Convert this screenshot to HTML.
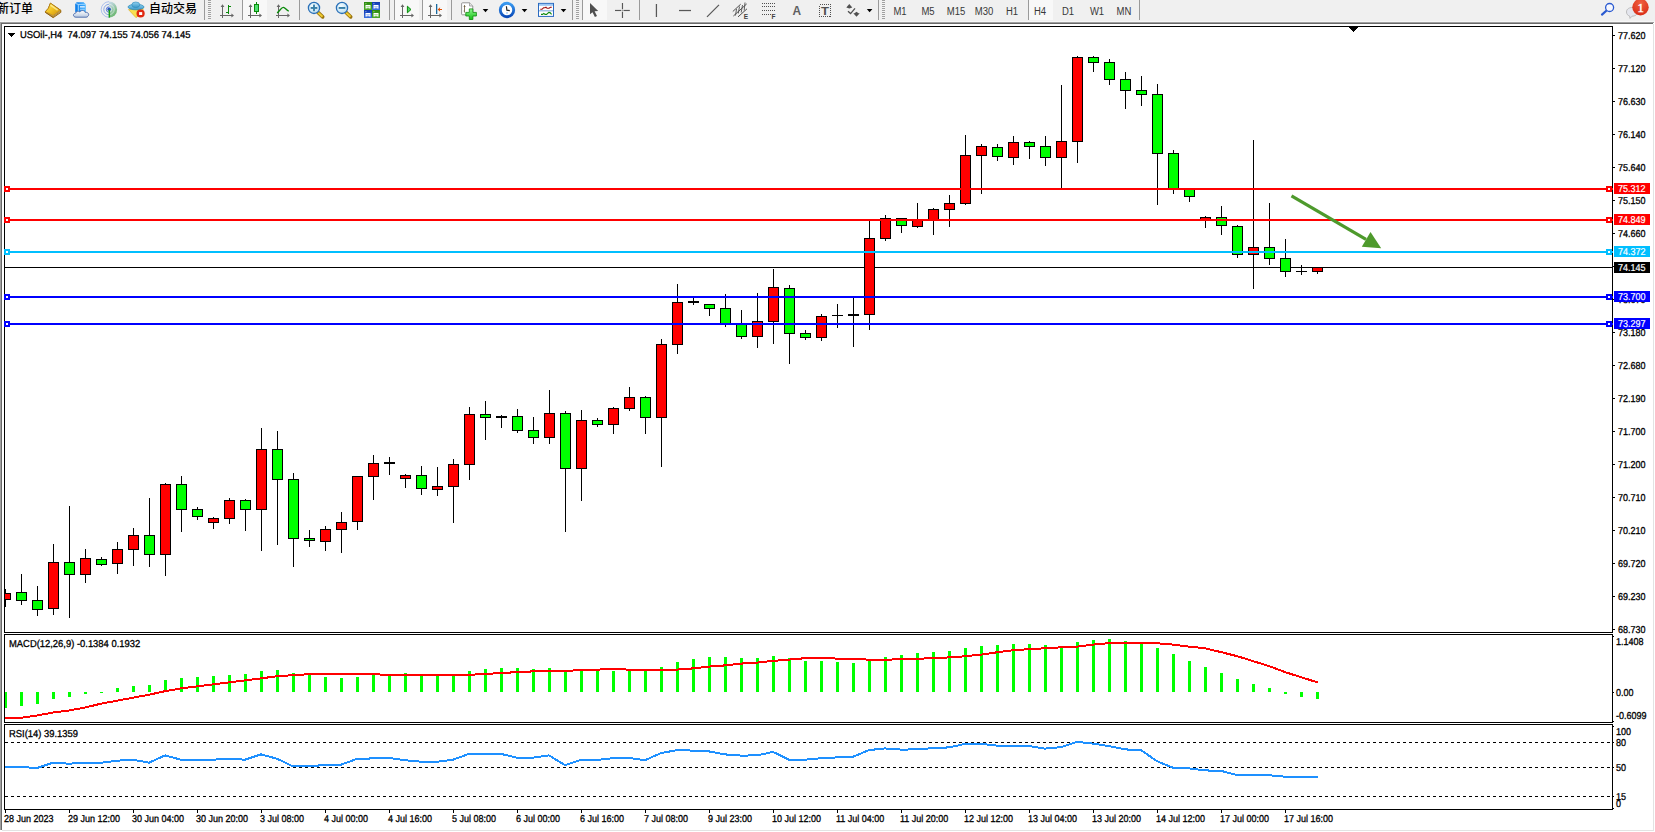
<!DOCTYPE html>
<html><head><meta charset="utf-8"><title>USOil H4</title>
<style>
html,body{margin:0;padding:0;background:#fff}
body{width:1655px;height:832px;position:relative;overflow:hidden;font-family:"Liberation Sans","Noto Sans CJK SC",sans-serif;color:#000}
#tb{position:absolute;left:0;top:0;width:1655px;height:21px;background:#f0f0f0}
#tb2{position:absolute;left:0;top:21px;width:1655px;height:1px;background:#f7f7f7}
.edge{position:absolute}
.t{position:absolute;text-rendering:geometricPrecision;-webkit-text-stroke:0.3px #000;font-size:10px;line-height:10px;height:10px;white-space:nowrap;transform-origin:0 50%;transform:scaleX(0.9)}
.t.w{transform:scaleX(0.94)}
.tag{position:absolute;left:1614px;width:36px;height:11px;color:#fff}
.tag span{position:absolute;text-rendering:geometricPrecision;-webkit-text-stroke:0.2px #fff;left:4px;top:1px;font-size:10px;line-height:11px;white-space:nowrap;transform-origin:0 50%;transform:scaleX(0.9)}
.cj{position:absolute;font-weight:500;font-size:12px;line-height:16px;top:1px;white-space:nowrap;font-family:"Liberation Sans","Noto Sans CJK SC",sans-serif}
.tf{position:absolute;top:5.5px;font-size:10px;line-height:11px;color:#383838;white-space:nowrap;text-align:center;transform:scaleX(0.95)}
.sep{position:absolute;top:0;width:1px;height:20px;background:#9a9a9a}
.hl{position:absolute;top:0;height:20px;background:#f8f8f8}
.grip{position:absolute;top:0;width:3px;height:19px;background:repeating-linear-gradient(to bottom,#a0a0a0 0,#a0a0a0 1px,#f4f4f4 1px,#f4f4f4 2px)}
.ic{position:absolute;top:2px}
</style></head><body>
<div id="tb"></div><div id="tb2"></div>
<div class="edge" style="left:0;top:22px;width:1654px;height:1px;background:#a0a0a0"></div>
<div class="edge" style="left:1px;top:23px;width:1652px;height:1px;background:#696969"></div>
<div class="edge" style="left:0;top:22px;width:1px;height:808px;background:#a0a0a0"></div>
<div class="edge" style="left:1px;top:23px;width:1px;height:807px;background:#696969"></div>
<div class="edge" style="left:1653px;top:24px;width:1px;height:807px;background:#e3e3e3"></div>
<div class="edge" style="left:2px;top:830px;width:1652px;height:1px;background:#e3e3e3"></div>
<div class="cj" style="left:-3px">新订单</div>
<div class="cj" style="left:149px">自动交易</div>
<div class="hl" style="left:243px;width:24px"></div>
<div class="hl" style="left:395px;width:24px"></div>
<div class="hl" style="left:423px;width:24px"></div>
<div class="hl" style="left:583px;width:24px"></div>
<div class="hl" style="left:1029px;width:24px"></div>
<div class="sep" style="left:204px"></div>
<div class="sep" style="left:242px"></div>
<div class="sep" style="left:299px"></div>
<div class="sep" style="left:389px"></div>
<div class="sep" style="left:394px"></div>
<div class="sep" style="left:422px"></div>
<div class="sep" style="left:451px"></div>
<div class="sep" style="left:572px"></div>
<div class="sep" style="left:582px"></div>
<div class="sep" style="left:639px"></div>
<div class="sep" style="left:878px"></div>
<div class="sep" style="left:1028px"></div>
<div class="sep" style="left:1139px"></div>
<div class="grip" style="left:208px"></div>
<div class="grip" style="left:576px"></div>
<div class="grip" style="left:882px"></div>
<div class="tf" style="left:884.8px;width:30px">M1</div>
<div class="tf" style="left:912.9px;width:30px">M5</div>
<div class="tf" style="left:941.4px;width:30px">M15</div>
<div class="tf" style="left:969.2px;width:30px">M30</div>
<div class="tf" style="left:997.3px;width:30px">H1</div>
<div class="tf" style="left:1024.6px;width:30px">H4</div>
<div class="tf" style="left:1053.2px;width:30px">D1</div>
<div class="tf" style="left:1082.3px;width:30px">W1</div>
<div class="tf" style="left:1109.0px;width:30px">MN</div>
<svg width="1655" height="22" viewBox="0 0 1655 22" style="position:absolute;left:0;top:0"><defs><linearGradient id="gold" x1="0" y1="0" x2="1" y2="1"><stop offset="0" stop-color="#ffe860"/><stop offset="0.5" stop-color="#f0c020"/><stop offset="1" stop-color="#c88a10"/></linearGradient><linearGradient id="cloud" x1="0" y1="0" x2="0" y2="1"><stop offset="0" stop-color="#ffffff"/><stop offset="1" stop-color="#b8c8e0"/></linearGradient><linearGradient id="srv" x1="0" y1="0" x2="1" y2="0"><stop offset="0" stop-color="#0a7ae8"/><stop offset="1" stop-color="#40b0ff"/></linearGradient><radialGradient id="lens" cx="0.4" cy="0.35" r="0.7"><stop offset="0" stop-color="#f4fcff"/><stop offset="1" stop-color="#b8dcf0"/></radialGradient><linearGradient id="gp" x1="0" y1="0" x2="0" y2="1"><stop offset="0" stop-color="#90f890"/><stop offset="1" stop-color="#14c014"/></linearGradient><radialGradient id="badge" cx="0.5" cy="0.25" r="0.8"><stop offset="0" stop-color="#f06040"/><stop offset="1" stop-color="#d82a14"/></radialGradient><linearGradient id="clk" x1="0" y1="0" x2="0" y2="1"><stop offset="0" stop-color="#3a9af0"/><stop offset="1" stop-color="#0a4ab8"/></linearGradient><linearGradient id="hat" x1="0" y1="0" x2="0" y2="1"><stop offset="0" stop-color="#90d0f0"/><stop offset="1" stop-color="#3a98c8"/></linearGradient><linearGradient id="gq" x1="0" y1="0" x2="0" y2="1"><stop offset="0" stop-color="#2e8a10"/><stop offset="1" stop-color="#4aa828"/></linearGradient><linearGradient id="bq" x1="0" y1="0" x2="0" y2="1"><stop offset="0" stop-color="#1038b0"/><stop offset="1" stop-color="#3a70e0"/></linearGradient><linearGradient id="sig" x1="0" y1="0" x2="0.6" y2="1"><stop offset="0" stop-color="#a8c8e8" stop-opacity="0.5"/><stop offset="1" stop-color="#48a848" stop-opacity="0.85"/></linearGradient></defs>
<path d="M50.4,3.2 L60.8,10.3 L60.8,12.4 L53.1,17.7 L45,12 L48.4,8.3 Z" fill="#e8d8a0" stroke="#9a6408" stroke-width="1" stroke-linejoin="round"/><path d="M50.4,3.2 L60.6,10.3 L53,15.6 L45.3,11.7 L48.4,8.3 Z" fill="url(#gold)" stroke="#b07a10" stroke-width="0.7" stroke-linejoin="round"/><path d="M45.6,12.6 L53,16.7 L60.6,11.4" fill="none" stroke="#8a5a08" stroke-width="0.7"/><path d="M50.6,5.2 L57.6,10.2" stroke="#fff6a8" stroke-width="1.6" opacity="0.7"/>
<path d="M75.2,3.4 L76.8,2.3 L83.6,2.3 L85.7,4.2 L85.7,12 L75.2,12 Z" fill="url(#srv)"/><path d="M75.2,3.4 L78.3,4.4 L85.7,4.2 M78.3,4.4 L78.3,12" stroke="#c8e8ff" stroke-width="0.8" fill="none"/><rect x="80" y="6.2" width="4.8" height="1.3" fill="#f0f8ff"/><rect x="80" y="8.8" width="4.8" height="0.8" fill="#bfe4ff"/><path d="M76,17.2 C72.8,17.2 72.6,13.4 75.6,13.2 C75.8,11.2 78.6,10.6 79.8,12 C81,9.8 84.8,10.2 85.2,12.4 C88.2,11.8 89.6,14.6 88,16.2 C87.6,17 86.8,17.2 86,17.2 Z" fill="url(#cloud)" stroke="#4868a8" stroke-width="0.9"/>
<g fill="none" stroke-width="0.9"><path d="M109,1.7 A7.8,7.8 0 0 0 109,17.3" stroke="#8aa8e8" opacity="0.75"/><path d="M109,4.3 A5.2,5.2 0 0 0 109,14.7" stroke="#6a90e0" opacity="0.85"/><path d="M109,6.8 A2.7,2.7 0 0 0 109,12.2" stroke="#4a70d0"/></g><path d="M109,9.5 L109,17.6 A8.1,8.1 0 0 0 117.1,9.5 A8.1,8.1 0 0 0 109,1.4 Z" fill="url(#sig)"/><g fill="none" stroke-width="0.9" stroke="#fff" opacity="0.55"><path d="M109,4.3 A5.2,5.2 0 0 1 109,14.7"/><path d="M109,6.8 A2.7,2.7 0 0 1 109,12.2"/></g><circle cx="109.1" cy="9.2" r="1.7" fill="#2a50c8"/><rect x="108.6" y="9.6" width="1.5" height="8" fill="#18a018"/>
<path d="M128.5,9.6 L143.4,8.8 L140,14 L136,17.7 Z" fill="#f8e050" stroke="#d8a818" stroke-width="0.6"/><ellipse cx="136" cy="7" rx="8" ry="2.8" fill="url(#hat)" stroke="#2a88b8" stroke-width="0.7"/><ellipse cx="135.8" cy="4.8" rx="4" ry="2.8" fill="url(#hat)" stroke="#2a88b8" stroke-width="0.6"/><circle cx="140.6" cy="13.5" r="4.1" fill="#e02810"/><rect x="139.1" y="12.1" width="3.1" height="2.9" fill="#fff"/>
<g fill="#666" shape-rendering="crispEdges"><rect x="222" y="5" width="1" height="13"/><rect x="220" y="15" width="13" height="1"/></g><path d="M220.6,7 L222.5,4.2 L224.4,7 Z M231.4,13.6 L234,15.5 L231.4,17.4 Z" fill="#666"/>
<g fill="#0a8a0a" shape-rendering="crispEdges"><rect x="228" y="5" width="1" height="9"/><rect x="229" y="6" width="2" height="1"/><rect x="226" y="12" width="2" height="1"/></g>
<g fill="#666" shape-rendering="crispEdges"><rect x="250" y="5" width="1" height="13"/><rect x="248" y="15" width="13" height="1"/></g><path d="M248.6,7 L250.5,4.2 L252.4,7 Z M259.4,13.6 L262,15.5 L259.4,17.4 Z" fill="#666"/>
<rect x="256" y="2" width="1" height="12" fill="#0a8a0a" shape-rendering="crispEdges"/><rect x="254.5" y="4.5" width="4" height="7" fill="#50e070" stroke="#0a8a0a" stroke-width="1"/>
<g fill="#666" shape-rendering="crispEdges"><rect x="278" y="5" width="1" height="13"/><rect x="276" y="15" width="13" height="1"/></g><path d="M276.6,7 L278.5,4.2 L280.4,7 Z M287.4,13.6 L290,15.5 L287.4,17.4 Z" fill="#666"/>
<path d="M277,12.8 C279.5,11.8 281,7.2 283.4,7.3 C285.2,7.4 286.5,10.6 288.8,11.2" fill="none" stroke="#0a8a0a" stroke-width="1.3"/>
<path d="M318,12.4 L322.7,16.9" stroke="#9a7410" stroke-width="3.6" stroke-linecap="round"/><path d="M318.2,12.6 L322.5,16.7" stroke="#f0cc30" stroke-width="2"/><circle cx="314" cy="7.9" r="5.6" fill="url(#lens)" stroke="#2a70b8" stroke-width="1.3"/>
<rect x="310.7" y="7" width="6.6" height="1.9" fill="#3a80a8"/>
<rect x="313.05" y="4.6" width="1.9" height="6.6" fill="#3a80a8"/>
<path d="M346,12.4 L350.7,16.9" stroke="#9a7410" stroke-width="3.6" stroke-linecap="round"/><path d="M346.2,12.6 L350.5,16.7" stroke="#f0cc30" stroke-width="2"/><circle cx="342" cy="7.9" r="5.6" fill="url(#lens)" stroke="#2a70b8" stroke-width="1.3"/>
<rect x="338.7" y="7" width="6.6" height="1.9" fill="#3a80a8"/>
<rect x="364" y="2" width="8" height="8" fill="url(#gq)"/><rect x="365.5" y="5" width="5" height="3.6" fill="#fff"/><rect x="366.2" y="6" width="3.6" height="0.9" fill="#a8e090"/><rect x="366.6" y="7.8" width="2.8" height="0.8" fill="url(#gq)"/><rect x="365.4" y="3.2" width="1" height="0.9" fill="#a8e090"/>
<rect x="372" y="2" width="8" height="8" fill="url(#bq)"/><rect x="373.5" y="5" width="5" height="3.6" fill="#fff"/><rect x="374.2" y="6" width="3.6" height="0.9" fill="#a8c0f8"/><rect x="374.6" y="7.8" width="2.8" height="0.8" fill="url(#bq)"/><rect x="373.4" y="3.2" width="1" height="0.9" fill="#a8c0f8"/>
<rect x="364" y="10" width="8" height="8" fill="url(#bq)"/><rect x="365.5" y="13" width="5" height="3.6" fill="#fff"/><rect x="366.2" y="14" width="3.6" height="0.9" fill="#a8c0f8"/><rect x="366.6" y="15.8" width="2.8" height="0.8" fill="url(#bq)"/><rect x="365.4" y="11.2" width="1" height="0.9" fill="#a8c0f8"/>
<rect x="372" y="10" width="8" height="8" fill="url(#gq)"/><rect x="373.5" y="13" width="5" height="3.6" fill="#fff"/><rect x="374.2" y="14" width="3.6" height="0.9" fill="#a8e090"/><rect x="374.6" y="15.8" width="2.8" height="0.8" fill="url(#gq)"/><rect x="373.4" y="11.2" width="1" height="0.9" fill="#a8e090"/>
<g fill="#666" shape-rendering="crispEdges"><rect x="402" y="5" width="1" height="13"/><rect x="400" y="15" width="13" height="1"/></g><path d="M400.6,7 L402.5,4.2 L404.4,7 Z M411.4,13.6 L414,15.5 L411.4,17.4 Z" fill="#666"/>
<path d="M407.4,6.2 L407.4,12.8 L411,9.5 Z" fill="#50d860" stroke="#0a8a0a" stroke-width="1" stroke-linejoin="round"/>
<g fill="#666" shape-rendering="crispEdges"><rect x="430" y="5" width="1" height="13"/><rect x="428" y="15" width="13" height="1"/></g><path d="M428.6,7 L430.5,4.2 L432.4,7 Z M439.4,13.6 L442,15.5 L439.4,17.4 Z" fill="#666"/>
<rect x="436" y="4" width="1.3" height="10" fill="#1a6aa0"/><path d="M437.6,9.5 L440.2,7.2 L439.8,9 L442,9 L442,10 L439.8,10 L440.2,11.8 Z" fill="#e05000"/>
<path d="M462.5,2.8 L469.5,2.8 L472.8,6 L472.8,14.8 L462.5,14.8 Q461.6,14.8 461.6,13.9 L461.6,3.7 Q461.6,2.8 462.5,2.8 Z" fill="#fff" stroke="#8a8a8a" stroke-width="0.9"/><path d="M469.5,2.8 L469.5,6 L472.8,6" fill="#e4e4e4" stroke="#8a8a8a" stroke-width="0.7"/><path d="M464.5,5 L464.5,12.5 M463.7,6.5 L465.5,6.5 M463.7,11 L464.5,11" stroke="#6a5a3a" stroke-width="0.8" fill="none"/><path d="M469.3,8.9 L472.9,8.9 L472.9,12.4 L476.4,12.4 L476.4,16 L472.9,16 L472.9,19.5 L469.3,19.5 L469.3,16 L465.8,16 L465.8,12.4 L469.3,12.4 Z" fill="url(#gp)" stroke="#0a8a0a" stroke-width="0.8" stroke-linejoin="round"/>
<path d="M482.7,9 L488.3,9 L485.5,12.2 Z" fill="#000"/>
<path d="M521.7,9 L527.3000000000001,9 L524.5,12.2 Z" fill="#000"/>
<path d="M560.7,9 L566.3000000000001,9 L563.5,12.2 Z" fill="#000"/>
<path d="M866.8,9 L872.4,9 L869.5999999999999,12.2 Z" fill="#000"/>
<circle cx="507" cy="10" r="6.7" fill="#fff" stroke="url(#clk)" stroke-width="2.9"/><path d="M506.4,6.2 L506.9,10.2 L509.8,10.6" fill="none" stroke="#222" stroke-width="1.2"/><rect x="506" y="12.6" width="2" height="0.8" fill="#6aa8f0"/>
<rect x="538.5" y="3.4" width="15" height="13" fill="#fff" stroke="#2a6ac0" stroke-width="1"/><rect x="539" y="3.9" width="14" height="1.9" fill="#9cc8f4"/><rect x="539" y="10.4" width="14" height="0.9" fill="#6a9ad8"/><path d="M540.3,9.3 L542,9.3 L543.5,7.8 L545,7.8 L546,7.2 L547,8.3 L549,8.3 L550.5,7.3 L551.8,7.3" fill="none" stroke="#a01010" stroke-width="1.1"/><path d="M541,14.4 L542.6,14.4 L543.8,13.4 L545,14.4 L546.6,14.4 L548.8,12.4 L550,12.6 L551.6,14.4" fill="none" stroke="#108a10" stroke-width="1.1"/>
<path d="M590,3 L590,14.3 L592.5,12.2 L594.9,17 L597,16 L594.6,11.3 L598.2,10.9 Z" fill="#505050"/>
<g fill="#585858"><rect x="615" y="9.9" width="6.3" height="1.15"/><rect x="623.5" y="9.9" width="6.3" height="1.15"/><rect x="621.9" y="3" width="1.15" height="6.3"/><rect x="621.9" y="11.7" width="1.15" height="6.3"/><rect x="622" y="10" width="1" height="1" fill="#a0a0a0"/></g>
<rect x="655.8" y="4" width="1.25" height="13" fill="#585858"/><rect x="679" y="9.9" width="12" height="1.25" fill="#585858"/><path d="M707,16.8 L719,4.8" stroke="#585858" stroke-width="1.15"/>
<g stroke="#505050" stroke-width="1" fill="none"><path d="M732.8,11.5 L740.7,4.2"/><path d="M733.4,16 L746.7,3.9"/><path d="M738,16.9 L747,8.8"/><path d="M736.5,9 L735.5,15.5 M739.5,6.5 L738.3,13.5 M742.5,5 L741.2,12.5 M745,2.5 L744.2,10.5" stroke-width="0.9"/></g>
<text x="743.8" y="18.7" font-family="Liberation Sans, sans-serif" font-size="6.5" font-weight="bold" fill="#404040">E</text>
<rect x="762" y="3" width="1" height="1" fill="#505050" shape-rendering="crispEdges"/>
<rect x="764" y="3" width="1" height="1" fill="#505050" shape-rendering="crispEdges"/>
<rect x="766" y="3" width="1" height="1" fill="#505050" shape-rendering="crispEdges"/>
<rect x="768" y="3" width="1" height="1" fill="#505050" shape-rendering="crispEdges"/>
<rect x="770" y="3" width="1" height="1" fill="#505050" shape-rendering="crispEdges"/>
<rect x="772" y="3" width="1" height="1" fill="#505050" shape-rendering="crispEdges"/>
<rect x="774" y="3" width="1" height="1" fill="#505050" shape-rendering="crispEdges"/>
<rect x="762" y="6" width="1" height="1" fill="#505050" shape-rendering="crispEdges"/>
<rect x="764" y="6" width="1" height="1" fill="#505050" shape-rendering="crispEdges"/>
<rect x="766" y="6" width="1" height="1" fill="#505050" shape-rendering="crispEdges"/>
<rect x="768" y="6" width="1" height="1" fill="#505050" shape-rendering="crispEdges"/>
<rect x="770" y="6" width="1" height="1" fill="#505050" shape-rendering="crispEdges"/>
<rect x="772" y="6" width="1" height="1" fill="#505050" shape-rendering="crispEdges"/>
<rect x="774" y="6" width="1" height="1" fill="#505050" shape-rendering="crispEdges"/>
<rect x="762" y="10" width="1" height="1" fill="#505050" shape-rendering="crispEdges"/>
<rect x="764" y="10" width="1" height="1" fill="#505050" shape-rendering="crispEdges"/>
<rect x="766" y="10" width="1" height="1" fill="#505050" shape-rendering="crispEdges"/>
<rect x="768" y="10" width="1" height="1" fill="#505050" shape-rendering="crispEdges"/>
<rect x="770" y="10" width="1" height="1" fill="#505050" shape-rendering="crispEdges"/>
<rect x="772" y="10" width="1" height="1" fill="#505050" shape-rendering="crispEdges"/>
<rect x="774" y="10" width="1" height="1" fill="#505050" shape-rendering="crispEdges"/>
<rect x="762" y="14" width="1" height="1" fill="#505050" shape-rendering="crispEdges"/>
<rect x="764" y="14" width="1" height="1" fill="#505050" shape-rendering="crispEdges"/>
<rect x="766" y="14" width="1" height="1" fill="#505050" shape-rendering="crispEdges"/>
<rect x="768" y="14" width="1" height="1" fill="#505050" shape-rendering="crispEdges"/>
<rect x="770" y="14" width="1" height="1" fill="#505050" shape-rendering="crispEdges"/>
<text x="771.6" y="18.8" font-family="Liberation Sans, sans-serif" font-size="6.5" font-weight="bold" fill="#404040">F</text>
<text x="792.4" y="15" font-family="Liberation Sans, sans-serif" font-size="12.5" font-weight="bold" fill="#606060" textLength="8.6" lengthAdjust="spacingAndGlyphs">A</text>
<rect x="819.5" y="4.5" width="11" height="12" fill="none" stroke="#505050" stroke-width="1" stroke-dasharray="1,1" shape-rendering="crispEdges"/>
<text x="821" y="14.5" font-family="Liberation Sans, sans-serif" font-size="10.2" font-weight="bold" fill="#505050" textLength="8" lengthAdjust="spacingAndGlyphs">T</text>
<path d="M846.3,7.5 L849.3,4 L852.3,7.5 L849.3,8.6 Z" fill="#505050"/><path d="M853.3,13.2 L859.7,13.2 L856.5,16.8 Z M854.5,13.2 L856.5,11.8 L858.5,13.2 Z" fill="#505050"/><path d="M848,11.2 L850.6,13.6 L855,8.4" fill="none" stroke="#505050" stroke-width="1.3"/>
<path d="M1606.3,10.7 L1602,14.6" stroke="#2a5ad0" stroke-width="2.2" stroke-linecap="round"/><circle cx="1609.6" cy="7.5" r="4" fill="#f6f8ff" stroke="#2a5ad0" stroke-width="1.3"/>
<path d="M1626.5,12 C1626.5,8.5 1630,7.4 1632.5,7.4 C1636,7.4 1637.6,9.5 1637.6,12 C1637.6,14.8 1635,16.2 1632,16.2 L1630,18.4 L1629.6,16 C1627.6,15.4 1626.5,14 1626.5,12 Z" fill="#e4e6ee" stroke="#b0b0b0" stroke-width="0.8"/><circle cx="1640.5" cy="7.2" r="8.2" fill="url(#badge)"/><text x="1640.5" y="12" text-anchor="middle" font-family="Liberation Serif, serif" font-size="13.5" fill="#fff" stroke="#fff" stroke-width="0.35">1</text></svg>
<svg width="1655" height="832" viewBox="0 0 1655 832" style="position:absolute;left:0;top:0" shape-rendering="crispEdges">
<rect x="5" y="267" width="1607" height="1" fill="#000"/>
<rect x="5" y="589" width="1" height="18" fill="#000"/>
<rect x="5" y="593" width="6" height="7" fill="#000"/>
<rect x="5" y="594" width="5" height="5" fill="#ff0000"/>
<rect x="21" y="574" width="1" height="31" fill="#000"/>
<rect x="16" y="592" width="11" height="9" fill="#000"/>
<rect x="17" y="593" width="9" height="7" fill="#00ff00"/>
<rect x="37" y="586" width="1" height="30" fill="#000"/>
<rect x="32" y="600" width="11" height="10" fill="#000"/>
<rect x="33" y="601" width="9" height="8" fill="#00ff00"/>
<rect x="53" y="544" width="1" height="71" fill="#000"/>
<rect x="48" y="562" width="11" height="47" fill="#000"/>
<rect x="49" y="563" width="9" height="45" fill="#ff0000"/>
<rect x="69" y="506" width="1" height="112" fill="#000"/>
<rect x="64" y="562" width="11" height="13" fill="#000"/>
<rect x="65" y="563" width="9" height="11" fill="#00ff00"/>
<rect x="85" y="549" width="1" height="34" fill="#000"/>
<rect x="80" y="558" width="11" height="17" fill="#000"/>
<rect x="81" y="559" width="9" height="15" fill="#ff0000"/>
<rect x="101" y="557" width="1" height="9" fill="#000"/>
<rect x="96" y="559" width="11" height="6" fill="#000"/>
<rect x="97" y="560" width="9" height="4" fill="#00ff00"/>
<rect x="117" y="542" width="1" height="32" fill="#000"/>
<rect x="112" y="549" width="11" height="15" fill="#000"/>
<rect x="113" y="550" width="9" height="13" fill="#ff0000"/>
<rect x="133" y="528" width="1" height="38" fill="#000"/>
<rect x="128" y="535" width="11" height="15" fill="#000"/>
<rect x="129" y="536" width="9" height="13" fill="#ff0000"/>
<rect x="149" y="498" width="1" height="69" fill="#000"/>
<rect x="144" y="535" width="11" height="20" fill="#000"/>
<rect x="145" y="536" width="9" height="18" fill="#00ff00"/>
<rect x="165" y="483" width="1" height="93" fill="#000"/>
<rect x="160" y="484" width="11" height="71" fill="#000"/>
<rect x="161" y="485" width="9" height="69" fill="#ff0000"/>
<rect x="181" y="476" width="1" height="56" fill="#000"/>
<rect x="176" y="484" width="11" height="26" fill="#000"/>
<rect x="177" y="485" width="9" height="24" fill="#00ff00"/>
<rect x="197" y="507" width="1" height="13" fill="#000"/>
<rect x="192" y="509" width="11" height="8" fill="#000"/>
<rect x="193" y="510" width="9" height="6" fill="#00ff00"/>
<rect x="213" y="517" width="1" height="12" fill="#000"/>
<rect x="208" y="518" width="11" height="5" fill="#000"/>
<rect x="209" y="519" width="9" height="3" fill="#ff0000"/>
<rect x="229" y="498" width="1" height="26" fill="#000"/>
<rect x="224" y="500" width="11" height="19" fill="#000"/>
<rect x="225" y="501" width="9" height="17" fill="#ff0000"/>
<rect x="245" y="499" width="1" height="32" fill="#000"/>
<rect x="240" y="500" width="11" height="10" fill="#000"/>
<rect x="241" y="501" width="9" height="8" fill="#00ff00"/>
<rect x="261" y="428" width="1" height="123" fill="#000"/>
<rect x="256" y="449" width="11" height="61" fill="#000"/>
<rect x="257" y="450" width="9" height="59" fill="#ff0000"/>
<rect x="277" y="431" width="1" height="114" fill="#000"/>
<rect x="272" y="449" width="11" height="31" fill="#000"/>
<rect x="273" y="450" width="9" height="29" fill="#00ff00"/>
<rect x="293" y="473" width="1" height="94" fill="#000"/>
<rect x="288" y="479" width="11" height="60" fill="#000"/>
<rect x="289" y="480" width="9" height="58" fill="#00ff00"/>
<rect x="309" y="530" width="1" height="17" fill="#000"/>
<rect x="304" y="538" width="11" height="3" fill="#000"/>
<rect x="305" y="539" width="9" height="1" fill="#00ff00"/>
<rect x="325" y="526" width="1" height="25" fill="#000"/>
<rect x="320" y="529" width="11" height="13" fill="#000"/>
<rect x="321" y="530" width="9" height="11" fill="#ff0000"/>
<rect x="341" y="512" width="1" height="41" fill="#000"/>
<rect x="336" y="522" width="11" height="8" fill="#000"/>
<rect x="337" y="523" width="9" height="6" fill="#ff0000"/>
<rect x="357" y="476" width="1" height="54" fill="#000"/>
<rect x="352" y="476" width="11" height="46" fill="#000"/>
<rect x="353" y="477" width="9" height="44" fill="#ff0000"/>
<rect x="373" y="455" width="1" height="45" fill="#000"/>
<rect x="368" y="463" width="11" height="14" fill="#000"/>
<rect x="369" y="464" width="9" height="12" fill="#ff0000"/>
<rect x="389" y="457" width="1" height="18" fill="#000"/>
<rect x="384" y="462" width="11" height="2" fill="#000"/>
<rect x="405" y="474" width="1" height="14" fill="#000"/>
<rect x="400" y="475" width="11" height="4" fill="#000"/>
<rect x="401" y="476" width="9" height="2" fill="#ff0000"/>
<rect x="421" y="466" width="1" height="29" fill="#000"/>
<rect x="416" y="475" width="11" height="14" fill="#000"/>
<rect x="417" y="476" width="9" height="12" fill="#00ff00"/>
<rect x="437" y="467" width="1" height="29" fill="#000"/>
<rect x="432" y="486" width="11" height="4" fill="#000"/>
<rect x="433" y="487" width="9" height="2" fill="#ff0000"/>
<rect x="453" y="459" width="1" height="64" fill="#000"/>
<rect x="448" y="464" width="11" height="23" fill="#000"/>
<rect x="449" y="465" width="9" height="21" fill="#ff0000"/>
<rect x="469" y="407" width="1" height="73" fill="#000"/>
<rect x="464" y="414" width="11" height="51" fill="#000"/>
<rect x="465" y="415" width="9" height="49" fill="#ff0000"/>
<rect x="485" y="401" width="1" height="39" fill="#000"/>
<rect x="480" y="414" width="11" height="4" fill="#000"/>
<rect x="481" y="415" width="9" height="2" fill="#00ff00"/>
<rect x="501" y="415" width="1" height="13" fill="#000"/>
<rect x="496" y="416" width="11" height="2" fill="#000"/>
<rect x="517" y="409" width="1" height="24" fill="#000"/>
<rect x="512" y="416" width="11" height="15" fill="#000"/>
<rect x="513" y="417" width="9" height="13" fill="#00ff00"/>
<rect x="533" y="417" width="1" height="27" fill="#000"/>
<rect x="528" y="430" width="11" height="8" fill="#000"/>
<rect x="529" y="431" width="9" height="6" fill="#00ff00"/>
<rect x="549" y="390" width="1" height="54" fill="#000"/>
<rect x="544" y="413" width="11" height="25" fill="#000"/>
<rect x="545" y="414" width="9" height="23" fill="#ff0000"/>
<rect x="565" y="411" width="1" height="121" fill="#000"/>
<rect x="560" y="413" width="11" height="56" fill="#000"/>
<rect x="561" y="414" width="9" height="54" fill="#00ff00"/>
<rect x="581" y="410" width="1" height="91" fill="#000"/>
<rect x="576" y="420" width="11" height="49" fill="#000"/>
<rect x="577" y="421" width="9" height="47" fill="#ff0000"/>
<rect x="597" y="418" width="1" height="9" fill="#000"/>
<rect x="592" y="420" width="11" height="5" fill="#000"/>
<rect x="593" y="421" width="9" height="3" fill="#00ff00"/>
<rect x="613" y="407" width="1" height="27" fill="#000"/>
<rect x="608" y="408" width="11" height="17" fill="#000"/>
<rect x="609" y="409" width="9" height="15" fill="#ff0000"/>
<rect x="629" y="387" width="1" height="24" fill="#000"/>
<rect x="624" y="397" width="11" height="12" fill="#000"/>
<rect x="625" y="398" width="9" height="10" fill="#ff0000"/>
<rect x="645" y="396" width="1" height="38" fill="#000"/>
<rect x="640" y="397" width="11" height="21" fill="#000"/>
<rect x="641" y="398" width="9" height="19" fill="#00ff00"/>
<rect x="661" y="339" width="1" height="128" fill="#000"/>
<rect x="656" y="344" width="11" height="74" fill="#000"/>
<rect x="657" y="345" width="9" height="72" fill="#ff0000"/>
<rect x="677" y="284" width="1" height="70" fill="#000"/>
<rect x="672" y="302" width="11" height="43" fill="#000"/>
<rect x="673" y="303" width="9" height="41" fill="#ff0000"/>
<rect x="693" y="298" width="1" height="7" fill="#000"/>
<rect x="688" y="301" width="11" height="2" fill="#000"/>
<rect x="709" y="304" width="1" height="12" fill="#000"/>
<rect x="704" y="304" width="11" height="5" fill="#000"/>
<rect x="705" y="305" width="9" height="3" fill="#00ff00"/>
<rect x="725" y="294" width="1" height="33" fill="#000"/>
<rect x="720" y="308" width="11" height="16" fill="#000"/>
<rect x="721" y="309" width="9" height="14" fill="#00ff00"/>
<rect x="741" y="310" width="1" height="29" fill="#000"/>
<rect x="736" y="323" width="11" height="14" fill="#000"/>
<rect x="737" y="324" width="9" height="12" fill="#00ff00"/>
<rect x="757" y="293" width="1" height="55" fill="#000"/>
<rect x="752" y="321" width="11" height="16" fill="#000"/>
<rect x="753" y="322" width="9" height="14" fill="#ff0000"/>
<rect x="773" y="269" width="1" height="75" fill="#000"/>
<rect x="768" y="287" width="11" height="35" fill="#000"/>
<rect x="769" y="288" width="9" height="33" fill="#ff0000"/>
<rect x="789" y="285" width="1" height="79" fill="#000"/>
<rect x="784" y="288" width="11" height="46" fill="#000"/>
<rect x="785" y="289" width="9" height="44" fill="#00ff00"/>
<rect x="805" y="330" width="1" height="10" fill="#000"/>
<rect x="800" y="333" width="11" height="5" fill="#000"/>
<rect x="801" y="334" width="9" height="3" fill="#00ff00"/>
<rect x="821" y="314" width="1" height="27" fill="#000"/>
<rect x="816" y="316" width="11" height="22" fill="#000"/>
<rect x="817" y="317" width="9" height="20" fill="#ff0000"/>
<rect x="837" y="304" width="1" height="24" fill="#000"/>
<rect x="832" y="315" width="11" height="1" fill="#000"/>
<rect x="853" y="298" width="1" height="49" fill="#000"/>
<rect x="848" y="314" width="11" height="2" fill="#000"/>
<rect x="869" y="220" width="1" height="110" fill="#000"/>
<rect x="864" y="238" width="11" height="77" fill="#000"/>
<rect x="865" y="239" width="9" height="75" fill="#ff0000"/>
<rect x="885" y="215" width="1" height="26" fill="#000"/>
<rect x="880" y="218" width="11" height="21" fill="#000"/>
<rect x="881" y="219" width="9" height="19" fill="#ff0000"/>
<rect x="901" y="218" width="1" height="15" fill="#000"/>
<rect x="896" y="218" width="11" height="8" fill="#000"/>
<rect x="897" y="219" width="9" height="6" fill="#00ff00"/>
<rect x="917" y="203" width="1" height="25" fill="#000"/>
<rect x="912" y="219" width="11" height="8" fill="#000"/>
<rect x="913" y="220" width="9" height="6" fill="#ff0000"/>
<rect x="933" y="208" width="1" height="27" fill="#000"/>
<rect x="928" y="209" width="11" height="12" fill="#000"/>
<rect x="929" y="210" width="9" height="10" fill="#ff0000"/>
<rect x="949" y="195" width="1" height="32" fill="#000"/>
<rect x="944" y="203" width="11" height="7" fill="#000"/>
<rect x="945" y="204" width="9" height="5" fill="#ff0000"/>
<rect x="965" y="135" width="1" height="70" fill="#000"/>
<rect x="960" y="155" width="11" height="49" fill="#000"/>
<rect x="961" y="156" width="9" height="47" fill="#ff0000"/>
<rect x="981" y="144" width="1" height="50" fill="#000"/>
<rect x="976" y="146" width="11" height="10" fill="#000"/>
<rect x="977" y="147" width="9" height="8" fill="#ff0000"/>
<rect x="997" y="144" width="1" height="17" fill="#000"/>
<rect x="992" y="147" width="11" height="10" fill="#000"/>
<rect x="993" y="148" width="9" height="8" fill="#00ff00"/>
<rect x="1013" y="136" width="1" height="29" fill="#000"/>
<rect x="1008" y="142" width="11" height="16" fill="#000"/>
<rect x="1009" y="143" width="9" height="14" fill="#ff0000"/>
<rect x="1029" y="141" width="1" height="18" fill="#000"/>
<rect x="1024" y="142" width="11" height="5" fill="#000"/>
<rect x="1025" y="143" width="9" height="3" fill="#00ff00"/>
<rect x="1045" y="136" width="1" height="30" fill="#000"/>
<rect x="1040" y="146" width="11" height="12" fill="#000"/>
<rect x="1041" y="147" width="9" height="10" fill="#00ff00"/>
<rect x="1061" y="85" width="1" height="103" fill="#000"/>
<rect x="1056" y="141" width="11" height="17" fill="#000"/>
<rect x="1057" y="142" width="9" height="15" fill="#ff0000"/>
<rect x="1077" y="56" width="1" height="107" fill="#000"/>
<rect x="1072" y="57" width="11" height="85" fill="#000"/>
<rect x="1073" y="58" width="9" height="83" fill="#ff0000"/>
<rect x="1093" y="56" width="1" height="16" fill="#000"/>
<rect x="1088" y="57" width="11" height="6" fill="#000"/>
<rect x="1089" y="58" width="9" height="4" fill="#00ff00"/>
<rect x="1109" y="59" width="1" height="26" fill="#000"/>
<rect x="1104" y="62" width="11" height="18" fill="#000"/>
<rect x="1105" y="63" width="9" height="16" fill="#00ff00"/>
<rect x="1125" y="72" width="1" height="37" fill="#000"/>
<rect x="1120" y="79" width="11" height="12" fill="#000"/>
<rect x="1121" y="80" width="9" height="10" fill="#00ff00"/>
<rect x="1141" y="76" width="1" height="30" fill="#000"/>
<rect x="1136" y="90" width="11" height="5" fill="#000"/>
<rect x="1137" y="91" width="9" height="3" fill="#00ff00"/>
<rect x="1157" y="84" width="1" height="121" fill="#000"/>
<rect x="1152" y="94" width="11" height="60" fill="#000"/>
<rect x="1153" y="95" width="9" height="58" fill="#00ff00"/>
<rect x="1173" y="150" width="1" height="44" fill="#000"/>
<rect x="1168" y="153" width="11" height="36" fill="#000"/>
<rect x="1169" y="154" width="9" height="34" fill="#00ff00"/>
<rect x="1189" y="189" width="1" height="13" fill="#000"/>
<rect x="1184" y="188" width="11" height="9" fill="#000"/>
<rect x="1185" y="189" width="9" height="7" fill="#00ff00"/>
<rect x="1205" y="216" width="1" height="12" fill="#000"/>
<rect x="1200" y="217" width="11" height="4" fill="#000"/>
<rect x="1201" y="218" width="9" height="2" fill="#ff0000"/>
<rect x="1221" y="206" width="1" height="29" fill="#000"/>
<rect x="1216" y="217" width="11" height="9" fill="#000"/>
<rect x="1217" y="218" width="9" height="7" fill="#00ff00"/>
<rect x="1237" y="225" width="1" height="33" fill="#000"/>
<rect x="1232" y="226" width="11" height="29" fill="#000"/>
<rect x="1233" y="227" width="9" height="27" fill="#00ff00"/>
<rect x="1253" y="140" width="1" height="149" fill="#000"/>
<rect x="1248" y="247" width="11" height="8" fill="#000"/>
<rect x="1249" y="248" width="9" height="6" fill="#ff0000"/>
<rect x="1269" y="203" width="1" height="62" fill="#000"/>
<rect x="1264" y="247" width="11" height="12" fill="#000"/>
<rect x="1265" y="248" width="9" height="10" fill="#00ff00"/>
<rect x="1285" y="239" width="1" height="38" fill="#000"/>
<rect x="1280" y="258" width="11" height="14" fill="#000"/>
<rect x="1281" y="259" width="9" height="12" fill="#00ff00"/>
<rect x="1301" y="265" width="1" height="10" fill="#000"/>
<rect x="1296" y="271" width="11" height="1" fill="#000"/>
<rect x="1317" y="268" width="1" height="6" fill="#000"/>
<rect x="1312" y="267" width="11" height="5" fill="#000"/>
<rect x="1313" y="268" width="9" height="3" fill="#ff0000"/>
<rect x="5" y="188" width="1608" height="2" fill="#ff0000"/>
<rect x="1606" y="186" width="6" height="6" fill="#ff0000"/>
<rect x="1608" y="188" width="2" height="2" fill="#fff"/>
<rect x="5" y="219" width="1608" height="2" fill="#ff0000"/>
<rect x="1606" y="217" width="6" height="6" fill="#ff0000"/>
<rect x="1608" y="219" width="2" height="2" fill="#fff"/>
<rect x="5" y="251" width="1608" height="2" fill="#00bfff"/>
<rect x="1606" y="249" width="6" height="6" fill="#00bfff"/>
<rect x="1608" y="251" width="2" height="2" fill="#fff"/>
<rect x="5" y="296" width="1608" height="2" fill="#0000ff"/>
<rect x="1606" y="294" width="6" height="6" fill="#0000ff"/>
<rect x="1608" y="296" width="2" height="2" fill="#fff"/>
<rect x="5" y="323" width="1608" height="2" fill="#0000ff"/>
<rect x="1606" y="321" width="6" height="6" fill="#0000ff"/>
<rect x="1608" y="323" width="2" height="2" fill="#fff"/>
<g shape-rendering="geometricPrecision"><line x1="1291.5" y1="195.8" x2="1366" y2="239.4" stroke="#4e9a2c" stroke-width="3.3"/><polygon points="1381.2,248.3 1361.8,246.7 1370.5,232" fill="#4e9a2c"/></g>
<rect x="5" y="692" width="2" height="16" fill="#00ff00"/>
<rect x="20" y="692" width="3" height="14" fill="#00ff00"/>
<rect x="36" y="692" width="3" height="12" fill="#00ff00"/>
<rect x="52" y="692" width="3" height="7" fill="#00ff00"/>
<rect x="68" y="692" width="3" height="5" fill="#00ff00"/>
<rect x="84" y="692" width="3" height="2" fill="#00ff00"/>
<rect x="100" y="692" width="3" height="1" fill="#00ff00"/>
<rect x="116" y="688" width="3" height="4" fill="#00ff00"/>
<rect x="132" y="686" width="3" height="6" fill="#00ff00"/>
<rect x="148" y="685" width="3" height="7" fill="#00ff00"/>
<rect x="164" y="680" width="3" height="12" fill="#00ff00"/>
<rect x="180" y="678" width="3" height="14" fill="#00ff00"/>
<rect x="196" y="677" width="3" height="15" fill="#00ff00"/>
<rect x="212" y="676" width="3" height="16" fill="#00ff00"/>
<rect x="228" y="675" width="3" height="17" fill="#00ff00"/>
<rect x="244" y="674" width="3" height="18" fill="#00ff00"/>
<rect x="260" y="671" width="3" height="21" fill="#00ff00"/>
<rect x="276" y="670" width="3" height="22" fill="#00ff00"/>
<rect x="292" y="673" width="3" height="19" fill="#00ff00"/>
<rect x="308" y="674" width="3" height="18" fill="#00ff00"/>
<rect x="324" y="677" width="3" height="15" fill="#00ff00"/>
<rect x="340" y="678" width="3" height="14" fill="#00ff00"/>
<rect x="356" y="677" width="3" height="15" fill="#00ff00"/>
<rect x="372" y="675" width="3" height="17" fill="#00ff00"/>
<rect x="388" y="674" width="3" height="18" fill="#00ff00"/>
<rect x="404" y="673" width="3" height="19" fill="#00ff00"/>
<rect x="420" y="675" width="3" height="17" fill="#00ff00"/>
<rect x="436" y="675" width="3" height="17" fill="#00ff00"/>
<rect x="452" y="675" width="3" height="17" fill="#00ff00"/>
<rect x="468" y="671" width="3" height="21" fill="#00ff00"/>
<rect x="484" y="669" width="3" height="23" fill="#00ff00"/>
<rect x="500" y="668" width="3" height="24" fill="#00ff00"/>
<rect x="516" y="668" width="3" height="24" fill="#00ff00"/>
<rect x="532" y="669" width="3" height="23" fill="#00ff00"/>
<rect x="548" y="668" width="3" height="24" fill="#00ff00"/>
<rect x="564" y="671" width="3" height="21" fill="#00ff00"/>
<rect x="580" y="671" width="3" height="21" fill="#00ff00"/>
<rect x="596" y="671" width="3" height="21" fill="#00ff00"/>
<rect x="612" y="671" width="3" height="21" fill="#00ff00"/>
<rect x="628" y="670" width="3" height="22" fill="#00ff00"/>
<rect x="644" y="671" width="3" height="21" fill="#00ff00"/>
<rect x="660" y="667" width="3" height="25" fill="#00ff00"/>
<rect x="676" y="662" width="3" height="30" fill="#00ff00"/>
<rect x="692" y="659" width="3" height="33" fill="#00ff00"/>
<rect x="708" y="657" width="3" height="35" fill="#00ff00"/>
<rect x="724" y="657" width="3" height="35" fill="#00ff00"/>
<rect x="740" y="658" width="3" height="34" fill="#00ff00"/>
<rect x="756" y="658" width="3" height="34" fill="#00ff00"/>
<rect x="772" y="656" width="3" height="36" fill="#00ff00"/>
<rect x="788" y="658" width="3" height="34" fill="#00ff00"/>
<rect x="804" y="661" width="3" height="31" fill="#00ff00"/>
<rect x="820" y="661" width="3" height="31" fill="#00ff00"/>
<rect x="836" y="662" width="3" height="30" fill="#00ff00"/>
<rect x="852" y="663" width="3" height="29" fill="#00ff00"/>
<rect x="868" y="660" width="3" height="32" fill="#00ff00"/>
<rect x="884" y="657" width="3" height="35" fill="#00ff00"/>
<rect x="900" y="655" width="3" height="37" fill="#00ff00"/>
<rect x="916" y="653" width="3" height="39" fill="#00ff00"/>
<rect x="932" y="652" width="3" height="40" fill="#00ff00"/>
<rect x="948" y="651" width="3" height="41" fill="#00ff00"/>
<rect x="964" y="648" width="3" height="44" fill="#00ff00"/>
<rect x="980" y="646" width="3" height="46" fill="#00ff00"/>
<rect x="996" y="645" width="3" height="47" fill="#00ff00"/>
<rect x="1012" y="644" width="3" height="48" fill="#00ff00"/>
<rect x="1028" y="644" width="3" height="48" fill="#00ff00"/>
<rect x="1044" y="645" width="3" height="47" fill="#00ff00"/>
<rect x="1060" y="646" width="3" height="46" fill="#00ff00"/>
<rect x="1076" y="642" width="3" height="50" fill="#00ff00"/>
<rect x="1092" y="640" width="3" height="52" fill="#00ff00"/>
<rect x="1108" y="639" width="3" height="53" fill="#00ff00"/>
<rect x="1124" y="641" width="3" height="51" fill="#00ff00"/>
<rect x="1140" y="643" width="3" height="49" fill="#00ff00"/>
<rect x="1156" y="648" width="3" height="44" fill="#00ff00"/>
<rect x="1172" y="654" width="3" height="38" fill="#00ff00"/>
<rect x="1188" y="661" width="3" height="31" fill="#00ff00"/>
<rect x="1204" y="667" width="3" height="25" fill="#00ff00"/>
<rect x="1220" y="673" width="3" height="19" fill="#00ff00"/>
<rect x="1236" y="679" width="3" height="13" fill="#00ff00"/>
<rect x="1252" y="684" width="3" height="8" fill="#00ff00"/>
<rect x="1268" y="688" width="3" height="4" fill="#00ff00"/>
<rect x="1284" y="692" width="3" height="2" fill="#00ff00"/>
<rect x="1300" y="692" width="3" height="5" fill="#00ff00"/>
<rect x="1316" y="692" width="3" height="7" fill="#00ff00"/>
<polyline points="5,718.0 21,717.8 37,715.5 53,712.5 69,710.5 85,707.5 101,703.7 117,700.7 133,697.7 149,694.7 165,691.2 181,688.4 197,686.4 213,684.4 229,682.4 245,680.4 261,678.4 277,676.2 293,675.2 309,674.2 325,674.2 341,674.2 357,674.2 373,674.2 389,674.9 405,674.9 421,674.9 437,674.9 453,674.9 469,674.9 485,673.9 501,673.1 517,672.1 533,671.4 549,671.1 565,670.9 581,670.1 597,669.6 613,669.1 629,669.6 645,670.1 661,670.1 677,669.6 693,668.4 709,666.6 725,665.4 741,663.6 757,662.6 773,660.9 789,659.6 805,658.2 821,657.9 837,658.6 853,659.1 869,659.6 885,659.6 901,659.4 917,658.6 933,658.4 949,657.4 965,656.3 981,654.6 997,652.3 1013,650.3 1029,649.1 1045,648.3 1061,647.3 1077,646.6 1093,644.6 1109,643.1 1125,642.8 1141,642.8 1157,643.3 1173,644.6 1189,646.6 1205,648.3 1221,652.1 1237,656.1 1253,661.1 1269,666.1 1285,672.1 1301,677.2 1317,682.2 1318,682.5" fill="none" stroke="#ff0000" stroke-width="2"/>
<line x1="5" y1="742.5" x2="1612" y2="742.5" stroke="#000" stroke-width="1" stroke-dasharray="3,3"/>
<line x1="5" y1="767.5" x2="1612" y2="767.5" stroke="#000" stroke-width="1" stroke-dasharray="3,3"/>
<line x1="5" y1="796.5" x2="1612" y2="796.5" stroke="#000" stroke-width="1" stroke-dasharray="3,3"/>
<polyline points="5,766.9 21,767.0 37,768.0 53,762.7 69,763.7 85,762.7 101,762.7 117,760.7 133,759.7 149,762.7 165,755.4 181,759.7 197,759.7 213,759.7 229,758.7 245,759.7 261,754.4 277,758.7 293,766.4 309,766.4 325,764.9 341,764.7 357,758.9 373,758.4 389,757.9 405,760.2 421,761.7 437,761.7 453,759.7 469,753.9 485,753.9 501,753.9 517,757.7 533,757.7 549,755.4 565,765.2 581,759.9 597,759.9 613,758.2 629,757.9 645,760.2 661,753.1 677,750.1 693,750.6 709,751.4 725,754.4 741,755.6 757,755.4 773,751.9 789,759.7 805,759.7 821,758.2 837,757.4 853,756.7 869,750.1 885,748.4 901,749.6 917,749.4 933,748.1 949,747.4 965,743.9 981,743.9 997,745.6 1013,745.6 1029,746.1 1045,748.6 1061,747.1 1077,741.9 1093,743.6 1109,746.1 1125,749.4 1141,750.1 1157,761.2 1173,767.7 1189,768.4 1205,770.4 1221,770.9 1237,775.0 1253,775.0 1269,775.2 1285,776.7 1301,776.7 1317,776.7 1318,776.7" fill="none" stroke="#1e90ff" stroke-width="2"/>
<rect x="4" y="26" width="1609" height="1" fill="#000"/>
<rect x="4" y="632" width="1609" height="1" fill="#000"/>
<rect x="4" y="26" width="1" height="607" fill="#000"/>
<rect x="1612" y="26" width="1" height="607" fill="#000"/>
<rect x="4" y="634" width="1609" height="1" fill="#000"/>
<rect x="4" y="722" width="1609" height="1" fill="#000"/>
<rect x="4" y="634" width="1" height="89" fill="#000"/>
<rect x="1612" y="634" width="1" height="89" fill="#000"/>
<rect x="4" y="724" width="1609" height="1" fill="#000"/>
<rect x="4" y="809" width="1609" height="1" fill="#000"/>
<rect x="4" y="724" width="1" height="86" fill="#000"/>
<rect x="1612" y="724" width="1" height="86" fill="#000"/>
<rect x="4" y="186" width="6" height="6" fill="#ff0000"/>
<rect x="6" y="188" width="2" height="2" fill="#fff"/>
<rect x="1612" y="188" width="1" height="2" fill="#ff0000"/>
<rect x="4" y="217" width="6" height="6" fill="#ff0000"/>
<rect x="6" y="219" width="2" height="2" fill="#fff"/>
<rect x="1612" y="219" width="1" height="2" fill="#ff0000"/>
<rect x="4" y="249" width="6" height="6" fill="#00bfff"/>
<rect x="6" y="251" width="2" height="2" fill="#fff"/>
<rect x="1612" y="251" width="1" height="2" fill="#00bfff"/>
<rect x="4" y="294" width="6" height="6" fill="#0000ff"/>
<rect x="6" y="296" width="2" height="2" fill="#fff"/>
<rect x="1612" y="296" width="1" height="2" fill="#0000ff"/>
<rect x="4" y="321" width="6" height="6" fill="#0000ff"/>
<rect x="6" y="323" width="2" height="2" fill="#fff"/>
<rect x="1612" y="323" width="1" height="2" fill="#0000ff"/>
<rect x="1613" y="35" width="2" height="1" fill="#000"/>
<rect x="1613" y="68" width="2" height="1" fill="#000"/>
<rect x="1613" y="101" width="2" height="1" fill="#000"/>
<rect x="1613" y="134" width="2" height="1" fill="#000"/>
<rect x="1613" y="167" width="2" height="1" fill="#000"/>
<rect x="1613" y="200" width="2" height="1" fill="#000"/>
<rect x="1613" y="233" width="2" height="1" fill="#000"/>
<rect x="1613" y="266" width="2" height="1" fill="#000"/>
<rect x="1613" y="299" width="2" height="1" fill="#000"/>
<rect x="1613" y="332" width="2" height="1" fill="#000"/>
<rect x="1613" y="365" width="2" height="1" fill="#000"/>
<rect x="1613" y="398" width="2" height="1" fill="#000"/>
<rect x="1613" y="431" width="2" height="1" fill="#000"/>
<rect x="1613" y="464" width="2" height="1" fill="#000"/>
<rect x="1613" y="497" width="2" height="1" fill="#000"/>
<rect x="1613" y="530" width="2" height="1" fill="#000"/>
<rect x="1613" y="563" width="2" height="1" fill="#000"/>
<rect x="1613" y="596" width="2" height="1" fill="#000"/>
<rect x="1613" y="629" width="2" height="1" fill="#000"/>
<rect x="1613" y="636" width="1" height="1" fill="#000"/>
<rect x="1613" y="692" width="1" height="1" fill="#000"/>
<rect x="1613" y="721" width="1" height="1" fill="#000"/>
<rect x="1613" y="726" width="1" height="1" fill="#000"/>
<rect x="1613" y="742" width="1" height="1" fill="#000"/>
<rect x="1613" y="767" width="1" height="1" fill="#000"/>
<rect x="1613" y="796" width="1" height="1" fill="#000"/>
<rect x="1613" y="808" width="1" height="1" fill="#000"/>
<rect x="5" y="810" width="1" height="3" fill="#000"/>
<rect x="69" y="810" width="1" height="3" fill="#000"/>
<rect x="133" y="810" width="1" height="3" fill="#000"/>
<rect x="197" y="810" width="1" height="3" fill="#000"/>
<rect x="261" y="810" width="1" height="3" fill="#000"/>
<rect x="325" y="810" width="1" height="3" fill="#000"/>
<rect x="389" y="810" width="1" height="3" fill="#000"/>
<rect x="453" y="810" width="1" height="3" fill="#000"/>
<rect x="517" y="810" width="1" height="3" fill="#000"/>
<rect x="581" y="810" width="1" height="3" fill="#000"/>
<rect x="645" y="810" width="1" height="3" fill="#000"/>
<rect x="709" y="810" width="1" height="3" fill="#000"/>
<rect x="773" y="810" width="1" height="3" fill="#000"/>
<rect x="837" y="810" width="1" height="3" fill="#000"/>
<rect x="901" y="810" width="1" height="3" fill="#000"/>
<rect x="965" y="810" width="1" height="3" fill="#000"/>
<rect x="1029" y="810" width="1" height="3" fill="#000"/>
<rect x="1093" y="810" width="1" height="3" fill="#000"/>
<rect x="1157" y="810" width="1" height="3" fill="#000"/>
<rect x="1221" y="810" width="1" height="3" fill="#000"/>
<rect x="1285" y="810" width="1" height="3" fill="#000"/>
<rect x="1349" y="27" width="9" height="1" fill="#000"/>
<rect x="1350" y="28" width="7" height="1" fill="#000"/>
<rect x="1351" y="29" width="5" height="1" fill="#000"/>
<rect x="1352" y="30" width="3" height="1" fill="#000"/>
<rect x="1353" y="31" width="1" height="1" fill="#000"/>
<rect x="8" y="33" width="7" height="1" fill="#000"/>
<rect x="9" y="34" width="5" height="1" fill="#000"/>
<rect x="10" y="35" width="3" height="1" fill="#000"/>
<rect x="11" y="36" width="1" height="1" fill="#000"/>
</svg>
<div class="t" style="left:1618px;top:32px">77.620</div>
<div class="t" style="left:1618px;top:65px">77.120</div>
<div class="t" style="left:1618px;top:98px">76.630</div>
<div class="t" style="left:1618px;top:131px">76.140</div>
<div class="t" style="left:1618px;top:164px">75.640</div>
<div class="t" style="left:1618px;top:197px">75.150</div>
<div class="t" style="left:1618px;top:230px">74.660</div>
<div class="t" style="left:1618px;top:296px">73.670</div>
<div class="t" style="left:1618px;top:329px">73.180</div>
<div class="t" style="left:1618px;top:362px">72.680</div>
<div class="t" style="left:1618px;top:395px">72.190</div>
<div class="t" style="left:1618px;top:428px">71.700</div>
<div class="t" style="left:1618px;top:461px">71.200</div>
<div class="t" style="left:1618px;top:494px">70.710</div>
<div class="t" style="left:1618px;top:527px">70.210</div>
<div class="t" style="left:1618px;top:560px">69.720</div>
<div class="t" style="left:1618px;top:593px">69.230</div>
<div class="t" style="left:1618px;top:626px">68.730</div>
<div class="tag" style="top:183px;background:#ff0000"><span>75.312</span></div>
<div class="tag" style="top:214px;background:#ff0000"><span>74.849</span></div>
<div class="tag" style="top:246px;background:#00bfff"><span>74.372</span></div>
<div class="tag" style="top:291px;background:#0000ff"><span>73.700</span></div>
<div class="tag" style="top:318px;background:#0000ff"><span>73.297</span></div>
<div class="tag" style="top:262px;background:#000"><span>74.145</span></div>
<div class="t" style="left:1616px;top:638px">1.1408</div>
<div class="t" style="left:1616px;top:689px">0.00</div>
<div class="t" style="left:1616px;top:712px">-0.6099</div>
<div class="t" style="left:1616px;top:728px">100</div>
<div class="t" style="left:1616px;top:739px">80</div>
<div class="t" style="left:1616px;top:764px">50</div>
<div class="t" style="left:1616px;top:793px">15</div>
<div class="t" style="left:1616px;top:800px">0</div>
<div class="t" style="left:4px;top:815px">28 Jun 2023</div>
<div class="t" style="left:68px;top:815px">29 Jun 12:00</div>
<div class="t" style="left:132px;top:815px">30 Jun 04:00</div>
<div class="t" style="left:196px;top:815px">30 Jun 20:00</div>
<div class="t" style="left:260px;top:815px">3 Jul 08:00</div>
<div class="t" style="left:324px;top:815px">4 Jul 00:00</div>
<div class="t" style="left:388px;top:815px">4 Jul 16:00</div>
<div class="t" style="left:452px;top:815px">5 Jul 08:00</div>
<div class="t" style="left:516px;top:815px">6 Jul 00:00</div>
<div class="t" style="left:580px;top:815px">6 Jul 16:00</div>
<div class="t" style="left:644px;top:815px">7 Jul 08:00</div>
<div class="t" style="left:708px;top:815px">9 Jul 23:00</div>
<div class="t" style="left:772px;top:815px">10 Jul 12:00</div>
<div class="t" style="left:836px;top:815px">11 Jul 04:00</div>
<div class="t" style="left:900px;top:815px">11 Jul 20:00</div>
<div class="t" style="left:964px;top:815px">12 Jul 12:00</div>
<div class="t" style="left:1028px;top:815px">13 Jul 04:00</div>
<div class="t" style="left:1092px;top:815px">13 Jul 20:00</div>
<div class="t" style="left:1156px;top:815px">14 Jul 12:00</div>
<div class="t" style="left:1220px;top:815px">17 Jul 00:00</div>
<div class="t" style="left:1284px;top:815px">17 Jul 16:00</div>
<div class="t w" style="left:20px;top:31px">USOil-,H4&nbsp; 74.097 74.155 74.056 74.145</div>
<div class="t w" style="left:9px;top:640px">MACD(12,26,9) -0.1384 0.1932</div>
<div class="t w" style="left:9px;top:730px">RSI(14) 39.1359</div>
</body></html>
